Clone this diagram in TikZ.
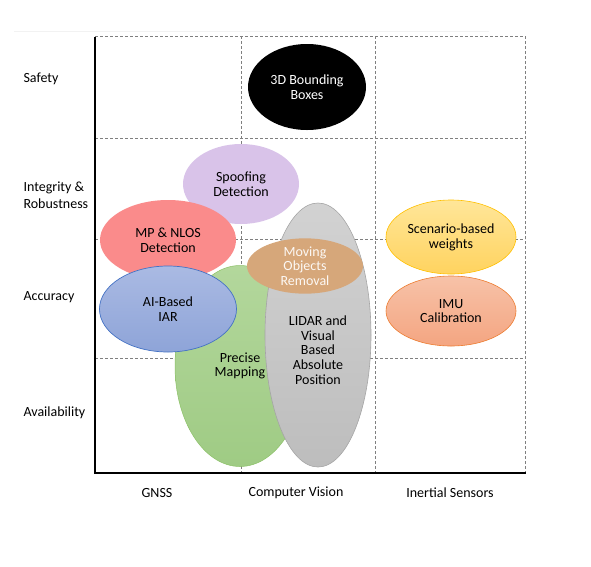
\documentclass[tikz,border=0pt]{standalone}
\usepackage{fontspec}
\setmainfont{Carlito}
\usetikzlibrary{shapes.geometric}
\definecolor{gridgray}{HTML}{7F7F7F}
\definecolor{spoof}{HTML}{D9C3E9}
\definecolor{mpred}{HTML}{FA8B8B}
\definecolor{iartop}{HTML}{AABAE3}
\definecolor{iarbot}{HTML}{8EA4D8}
\definecolor{iarline}{HTML}{4472C4}
\definecolor{maptop}{HTML}{B3D79C}
\definecolor{mapbot}{HTML}{9FCB84}
\definecolor{mapline}{HTML}{8CC168}
\definecolor{lidtop}{HTML}{D2D2D2}
\definecolor{lidbot}{HTML}{BDBDBD}
\definecolor{lidline}{HTML}{A5A5A5}
\definecolor{movtan}{HTML}{D6A77A}
\definecolor{scntop}{HTML}{FFE699}
\definecolor{scnbot}{HTML}{FFD35F}
\definecolor{scnline}{HTML}{FFC000}
\definecolor{imutop}{HTML}{F7C2A8}
\definecolor{imubot}{HTML}{F4A581}
\definecolor{imuline}{HTML}{ED7D31}
\tikzset{
  gridline/.style={gridgray,line width=0.8pt,dash pattern=on 3pt off 2pt},
  axis/.style={black,line width=2pt},
  blob/.style={ellipse,inner sep=0pt,align=center,font=\fontsize{14}{14.7}\selectfont},
  axislabel/.style={align=left,anchor=west,font=\fontsize{14}{17}\selectfont},
  catlabel/.style={font=\fontsize{14}{15}\selectfont}
}

\begin{document}
\begin{tikzpicture}[x=1pt,y=-1pt]
\useasboundingbox (0,0) rectangle (591,566);
\draw[black!5,line width=0.5pt] (14,31)--(489,31);
% grid
\foreach \y in {36,138,239,358}{
  \draw[gridline] (95,\y)--(525,\y);
}
\foreach \x in {241,375,525}{
  \draw[gridline] (\x,36)--(\x,473);
}
% ellipses
\node[blob,fill=black,text=white,minimum width=118pt,minimum height=86pt] (bbox) at (307,87) {3D Bounding\\Boxes};
\node[blob,fill=spoof,minimum width=116pt,minimum height=80pt] (spoof) at (241,184) {Spoofing\\Detection};
\node[blob,fill=mpred,minimum width=136pt,minimum height=80pt] (nlos) at (168,240) {MP \& NLOS\\Detection};
\node[blob,top color=maptop,bottom color=mapbot,draw=mapline,line width=0.5pt,minimum width=130pt,minimum height=201pt] (map) at (240,366) {Precise\\Mapping};
\node[blob,top color=iartop,bottom color=iarbot,draw=iarline,line width=0.7pt,minimum width=137pt,minimum height=86pt] (iar) at (168,309) {AI-Based\\IAR};
\node[blob,top color=lidtop,bottom color=lidbot,draw=lidline,line width=0.6pt,minimum width=106pt,minimum height=264pt] (lidar) at (318,335) {};
\node[blob] (lidartext) at (318,350) {LIDAR and\\Visual\\Based\\Absolute\\Position};
\node[blob,fill=movtan,text=white!92!movtan,minimum width=116pt,minimum height=54pt] (moving) at (305,266) {Moving\\Objects\\Removal};
\node[blob,top color=scntop,bottom color=scnbot,draw=scnline,line width=0.6pt,minimum width=130pt,minimum height=74pt] (scenario) at (451,237) {Scenario-based\\weights};
\node[blob,top color=imutop,bottom color=imubot,draw=imuline,line width=0.6pt,minimum width=130pt,minimum height=70pt] (imu) at (451,311) {IMU\\Calibration};
% axes
\draw[axis] (95,37)--(95,473)--(526,473);
% labels
\node[axislabel] (safety) at (20,79) {Safety};
\node[axislabel] (integrity) at (20,195) {Integrity \&\\Robustness};
\node[axislabel] (accuracy) at (20,297) {Accuracy};
\node[axislabel] (availability) at (20,413) {Availability};
\node[catlabel] (gnss) at (157,493) {GNSS};
\node[catlabel] (vision) at (296,493) {Computer Vision};
\node[catlabel] (inertial) at (450,493) {Inertial Sensors};
\end{tikzpicture}
\end{document}
